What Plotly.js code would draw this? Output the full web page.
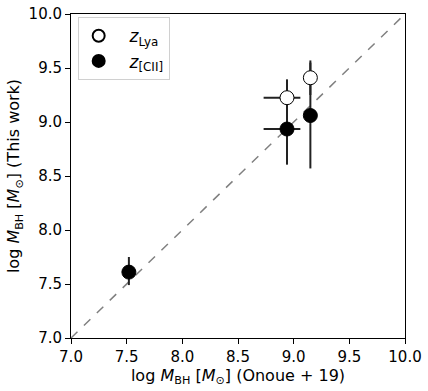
<!DOCTYPE html>
<html>
<head>
<meta charset="utf-8">
<script src="https://cdn.plot.ly/plotly-3.0.1.min.js"></script>
<style>
  body { margin: 0; background: #fff; }
  #chart { width: 428px; height: 391px; }
</style>
</head>
<body>
<div id="chart"></div>
<script>
// log M_BH: Onoue+19 (x) vs this work (y)
let lya_x = [8.94, 9.15];
let lya_y = [9.225, 9.41];
let lya_xerr_minus = [0.21, 0];
let lya_xerr_plus = [0.12, 0];
let lya_yerr = [0.17, 0.16];

let cii_x = [8.94, 9.15, 7.52];
let cii_y = [8.935, 9.06, 7.61];
let cii_xerr_minus = [0.21, 0, 0];
let cii_xerr_plus = [0.12, 0, 0];
let cii_yerr_minus = [0.33, 0.49, 0.12];
let cii_yerr_plus = [0.33, 0.49, 0.14];

let one_to_one = [7.0, 10.0];

let errColor = '#222';

let traces = [
    {
        x: one_to_one, y: one_to_one,
        mode: 'lines', type: 'scatter',
        line: {color: 'gray', width: 1.5, dash: 'dash'},
        showlegend: false, hoverinfo: 'skip'
    },
    {
        name: '\u00a0\u00a0<i>z</i><sub>[CII]</sub>',
        x: cii_x, y: cii_y,
        mode: 'markers', type: 'scatter',
        marker: {size: 14, color: 'black', line: {color: 'black', width: 1}},
        error_x: {type: 'data', symmetric: false, array: cii_xerr_plus, arrayminus: cii_xerr_minus,
                  color: errColor, thickness: 2, width: 0},
        error_y: {type: 'data', symmetric: false, array: cii_yerr_plus, arrayminus: cii_yerr_minus,
                  color: errColor, thickness: 2, width: 0}
    },
    {
        name: '\u00a0\u00a0<i>z</i><sub>Lya</sub>',
        x: lya_x, y: lya_y,
        mode: 'markers', type: 'scatter',
        marker: {size: 14, color: 'white', line: {color: 'black', width: 1}},
        error_x: {type: 'data', symmetric: false, array: lya_xerr_plus, arrayminus: lya_xerr_minus,
                  color: errColor, thickness: 2, width: 0},
        error_y: {type: 'data', array: lya_yerr, color: errColor, thickness: 2, width: 0}
    }
];

let axisCommon = {
    range: [7.0, 10.0],
    tickvals: [7.0, 7.5, 8.0, 8.5, 9.0, 9.5, 10.0],
    ticktext: ['7.0', '7.5', '8.0', '8.5', '9.0', '9.5', '10.0'],
    ticks: 'outside', ticklen: 5, tickwidth: 1, tickcolor: 'black',
    showline: true, linecolor: 'black', linewidth: 1, mirror: true,
    showgrid: false, zeroline: false,
    tickfont: {size: 15, color: 'black'}
};

let layout = {
    width: 428, height: 391,
    margin: {l: 71, r: 23, t: 14, b: 53},
    paper_bgcolor: 'white', plot_bgcolor: 'white',
    font: {family: 'DejaVu Sans', color: 'black'},
    showlegend: true,
    legend: {
        x: 0.02, y: 0.99, xanchor: 'left', yanchor: 'top',
        bordercolor: '#d0d0d0', borderwidth: 1, bgcolor: 'white',
        font: {size: 17}, traceorder: 'reversed',
        itemsizing: 'constant', tracegroupgap: 12
    },
    xaxis: Object.assign({}, axisCommon, {
        title: {text: 'log <i>M</i><sub>BH</sub> [<i>M</i><sub>\u2299</sub>] (Onoue + 19)', font: {size: 16}, standoff: 2}
    }),
    yaxis: Object.assign({}, axisCommon, {
        title: {text: 'log <i>M</i><sub>BH</sub> [<i>M</i><sub>\u2299</sub>] (This work)', font: {size: 16}, standoff: 4}
    })
};

Plotly.newPlot('chart', traces, layout, {displayModeBar: false, staticPlot: true});
</script>
</body>
</html>
